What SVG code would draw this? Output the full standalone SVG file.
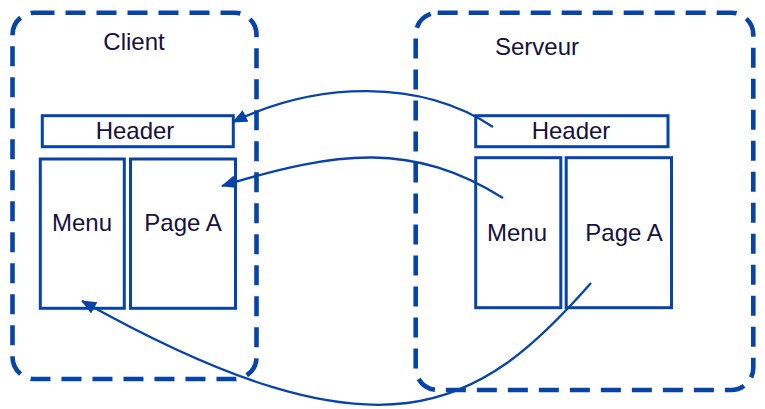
<svg xmlns="http://www.w3.org/2000/svg" width="765" height="409" viewBox="0 0 765 409">
<style>
.zone{fill:none;stroke:#0744a9;stroke-width:4.6;stroke-dasharray:20 11}
.box{fill:#fff;stroke:#0744a9;stroke-width:3}
.lbl{font-family:"Liberation Sans",Arial,sans-serif;font-size:24px;fill:#16103e;text-anchor:middle}
.conn{fill:none;stroke:#0744a9;stroke-width:2.3}
</style>
<defs>
<marker id="ah" markerUnits="userSpaceOnUse" markerWidth="16" markerHeight="14" refX="14" refY="6.5" orient="auto" viewBox="0 0 16 14">
<path d="M0,0 L15,6.5 L0,13 Z" fill="#0744a9"/>
</marker>
</defs>
<rect width="765" height="409" fill="#fff"/>
<g id="client">
<rect class="zone" x="12.5" y="12.7" width="244" height="366.3" rx="22"/>
<text class="lbl" x="134" y="50">Client</text>
</g>
<g id="serveur">
<rect class="zone" x="415.7" y="12.7" width="337.6" height="377.3" rx="22"/>
<text class="lbl" x="537" y="55">Serveur</text>
</g>
<g id="client-header">
<rect class="box" x="42.3" y="115.7" width="191" height="31"/>
<text class="lbl" x="135" y="139">Header</text>
</g>
<g id="client-menu">
<rect class="box" x="40.3" y="159" width="84" height="149.3"/>
<text class="lbl" x="82" y="231">Menu</text>
</g>
<g id="client-pagea">
<rect class="box" x="130.5" y="159" width="105" height="149.3"/>
<text class="lbl" x="183" y="231">Page A</text>
</g>
<g id="server-header">
<rect class="box" x="475.7" y="115.7" width="192.3" height="31"/>
<text class="lbl" x="571" y="139">Header</text>
</g>
<g id="server-menu">
<rect class="box" x="475.7" y="157.7" width="85.1" height="150"/>
<text class="lbl" x="517" y="241">Menu</text>
</g>
<g id="server-pagea">
<rect class="box" x="566.2" y="157.7" width="105.3" height="150"/>
<text class="lbl" x="624" y="241">Page A</text>
</g>
<g id="connectors">
<path class="conn" d="M493,127 C421,79 318,81 233,122" marker-end="url(#ah)"/>
<path class="conn" d="M503,198 C413,142 339,150 222,186" marker-end="url(#ah)"/>
<path class="conn" d="M591,283 C479,410.5 383,469.5 82,301" marker-end="url(#ah)"/>
</g>
</svg>
